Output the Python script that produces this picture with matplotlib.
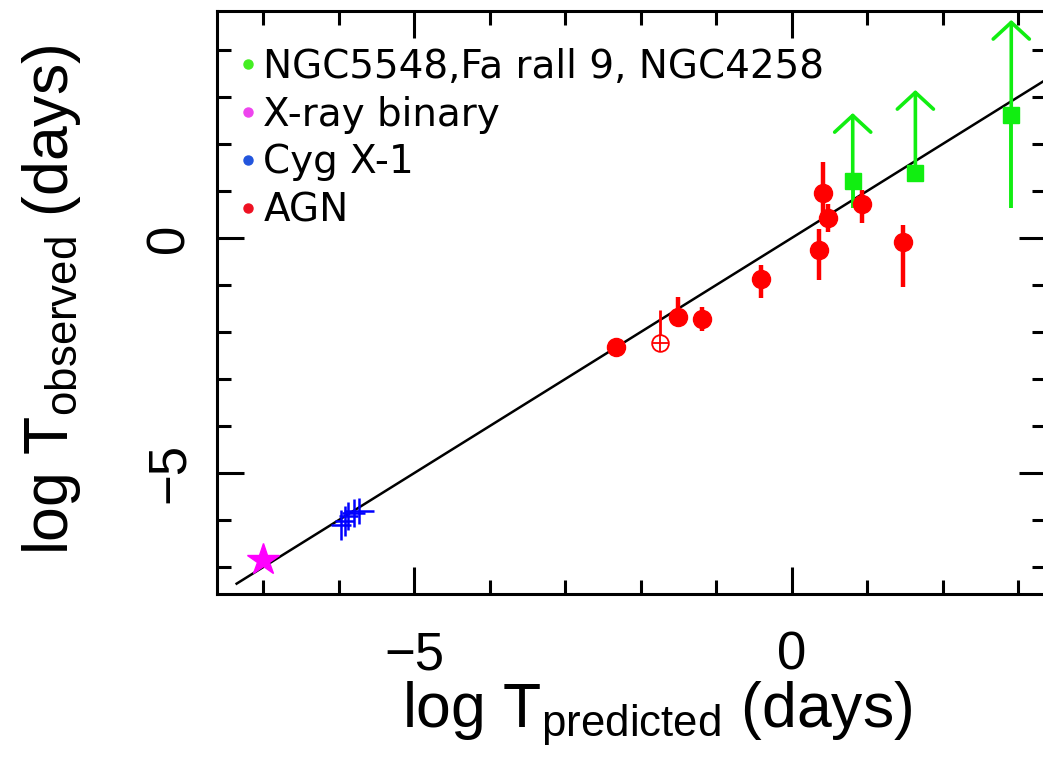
import matplotlib
matplotlib.use("Agg")
import matplotlib.pyplot as plt
from matplotlib.lines import Line2D
from matplotlib.ticker import MultipleLocator
import numpy as np

plt.rcParams['mathtext.fontset'] = 'custom'
plt.rcParams['mathtext.rm'] = 'Liberation Sans'
plt.rcParams['mathtext.it'] = 'Liberation Sans'

# ---------------- data ----------------
# AGN (filled red circles)
agn_x = [-2.32, -1.50, -1.19, -0.41, 0.41, 0.48, 0.37, 0.93, 1.48]
agn_y = [-2.32, -1.68, -1.72, -0.87, 0.96, 0.43, -0.26, 0.72, -0.09]
agn_err_lo = [0.00, 0.00, 0.25, 0.40, 0.66, 0.30, 0.64, 0.40, 0.96]
agn_err_hi = [0.00, 0.43, 0.25, 0.30, 0.66, 0.30, 0.45, 0.30, 0.36]

# AGN (open circle with plus)
agn_open_x = [-1.74]
agn_open_y = [-2.23]
agn_open_err_hi = [0.70]

# NGC5548, Fairall 9, NGC4258 (green squares, lower limits)
ngc_x = [0.81, 1.64, 2.91]
ngc_y = [1.21, 1.38, 2.62]
ngc_err_lo = [0.57, 0.19, 1.98]
ngc_arrow_tip = [2.66, 3.15, 4.64]

# Cyg X-1 (blue crosses)
cyg_x = [-5.97, -5.92, -5.87, -5.80, -5.73]
cyg_y = [-6.11, -6.02, -5.91, -5.85, -5.81]
cyg_xerr = [0.13, 0.13, 0.13, 0.15, 0.20]
cyg_yerr = [0.32, 0.32, 0.30, 0.30, 0.28]

# X-ray binary (magenta star)
xrb_x = [-7.00]
xrb_y = [-6.85]

# one-to-one line
line_x = np.array([-7.35, 3.6])
line_y = line_x

legend_labels = ["NGC5548,Fa rall 9, NGC4258", "X-ray binary", "Cyg X-1", "AGN"]
legend_colors = ["#44ee22", "#ee44ee", "#2255dd", "#ee1122"]

# ---------------- figure ----------------
W, H = 1043, 765
fig = plt.figure(figsize=(W / 100, H / 100), dpi=100)
ax_left, ax_right, ax_top, ax_bot = 217, 1046, 11, 594
ax = fig.add_axes([ax_left / W, 1 - ax_bot / H, (ax_right - ax_left) / W, (ax_bot - ax_top) / H])

red = "#ff0000"
green = "#11ee11"
blue = "#0000ff"
magenta = "#ff00ff"

ax.plot(line_x, line_y, color="black", lw=1.8, zorder=2)

ax.errorbar(agn_x, agn_y, yerr=[agn_err_lo, agn_err_hi], fmt="o", color=red,
            ms=13, elinewidth=3.2, capsize=0, zorder=3)
ax.errorbar(agn_open_x, agn_open_y, yerr=[[0.0], agn_open_err_hi], fmt="o", mfc="white",
            mec=red, color=red, ms=12, mew=1.3, elinewidth=2, capsize=0, zorder=3)
ax.plot(agn_open_x, agn_open_y, "+", color=red, ms=12, mew=1.3, zorder=4)

ax.errorbar(ngc_x, ngc_y, yerr=[ngc_err_lo, [0] * len(ngc_x)], fmt="s", color=green,
            ms=11, elinewidth=2.8, capsize=0, zorder=3)
for x0, y0, yt in zip(ngc_x, ngc_y, ngc_arrow_tip):
    ax.annotate("", xy=(x0, yt), xytext=(x0, y0),
                arrowprops=dict(arrowstyle="->,head_length=1.2,head_width=1.3",
                                color=green, lw=2.6, shrinkA=0, shrinkB=0), zorder=3)

ax.errorbar(cyg_x, cyg_y, xerr=cyg_xerr, yerr=cyg_yerr, fmt="none", ecolor=blue,
            elinewidth=1.8, capsize=0, zorder=3)

ax.plot(xrb_x, xrb_y, "*", color=magenta, ms=24, zorder=4)

ax.set_xlim(-7.61, 3.37)
ax.set_ylim(-7.57, 4.83)

for s in ax.spines.values():
    s.set_linewidth(2.2)
ax.xaxis.set_major_locator(MultipleLocator(5))
ax.xaxis.set_minor_locator(MultipleLocator(1))
ax.yaxis.set_major_locator(MultipleLocator(5))
ax.yaxis.set_minor_locator(MultipleLocator(1))
ax.tick_params(which="both", direction="in", top=True, right=True, width=2.2)
ax.tick_params(which="major", length=19.5)
ax.tick_params(which="minor", length=10)
ax.tick_params(axis="x", which="major", pad=26)
ax.tick_params(axis="y", which="major", pad=16)
for lab in ax.get_xticklabels():
    lab.set_fontfamily("Liberation Sans")
    lab.set_fontsize(38)
for lab in ax.get_yticklabels():
    lab.set_fontfamily("Liberation Sans")
    lab.set_fontsize(38)
    lab.set_rotation(90)
    lab.set_va("center")

fig.text(657 / W, 1 - 727 / H, r"log T$_{\rm predicted}$ (days)", family="Liberation Sans",
         fontsize=45, ha="center", va="baseline")
fig.text(68 / W, 1 - 300 / H, r"log T$_{\rm observed}$ (days)", family="Liberation Sans",
         fontsize=45, ha="center", va="baseline", rotation=90, rotation_mode="anchor")

handles = [Line2D([], [], ls="none", marker="o", ms=6.5, color=c) for c in legend_colors]
leg = ax.legend(handles, legend_labels, loc="upper left",
                bbox_to_anchor=((240 - ax_left) / (ax_right - ax_left), 1 - (48 - ax_top) / (ax_bot - ax_top)),
                frameon=False, borderpad=0, borderaxespad=0, handlelength=0.4,
                handletextpad=0.2, labelspacing=0.25, prop=dict(family="DejaVu Sans", size=28))

fig.savefig("out.png", dpi=100)
